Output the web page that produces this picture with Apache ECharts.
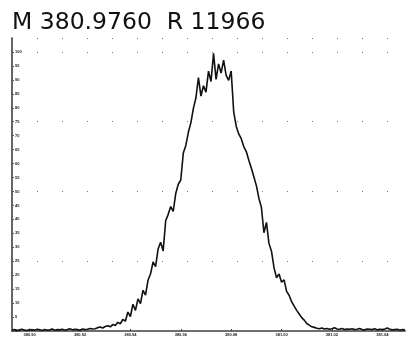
<!DOCTYPE html>
<html>
<head>
<meta charset="utf-8">
<script src="https://cdn.jsdelivr.net/npm/echarts@6/dist/echarts.min.js"></script>
<style>
  html, body { margin: 0; padding: 0; background: #fff; }
  #chart { width: 410px; height: 339px; }
</style>
</head>
<body>
<div id="chart"></div>
<script>
// profile of the isotope peak, m/z sampled every 0.001 from massStart
const massStart = 380.893;
const massStep = 0.001;
const intensity = [
  0.3, 0.5, 0.2, 0.4, 0.6, 0.3, 0.2, 0.5, 0.4, 0.3, 0.6, 0.4, 0.2, 0.5, 0.3, 0.4,
  0.7, 0.3, 0.5, 0.4, 0.6, 0.3, 0.5, 0.8, 0.4, 0.6, 0.5, 0.3, 0.7, 0.5, 0.6, 0.9, 0.7,
  0.8, 1.2, 1.4, 1.1, 1.6, 1.9, 1.5, 2.3, 2.0, 3.1, 2.6, 4.2, 3.5, 6.8, 5.2, 9.6, 7.4,
  11.5, 9.8, 14.6, 12.9, 18.2, 20.5, 24.8, 23.1, 29.4, 31.8, 28.7, 39.5, 41.8, 44.6,
  42.9, 49.3, 52.6, 54.1, 63.8, 66.5, 71.2, 74.6, 79.8, 83.5, 90.8, 84.2, 87.9, 85.6,
  93.1, 89.4, 99.5, 90.2, 95.7, 92.4, 97.1, 91.6, 89.8, 93.2, 78.5, 73.4, 70.6, 68.9,
  66.1, 64.3, 61.2, 58.4, 55.3, 52.1, 47.6, 44.3, 35.2, 38.9, 31.4, 28.6, 22.7, 19.1,
  20.4, 17.5, 18.3, 14.2, 12.8, 10.5, 8.9, 7.4, 6.1, 4.8, 3.9, 2.7, 2.1, 1.5, 1.3,
  1.0, 0.8, 1.1, 0.7, 0.9, 0.6, 0.8, 1.2, 0.7, 0.6, 0.9, 0.5, 0.7, 0.6, 0.8, 0.5,
  0.6, 0.9, 0.5, 0.4, 0.7, 0.6, 0.5, 0.8, 0.4, 0.6, 0.5, 0.7, 1.1, 0.6, 0.4, 0.5,
  0.6, 0.3, 0.5, 0.4
];
const massTicks = [380.90, 380.92, 380.94, 380.96, 380.98, 381.00, 381.02, 381.04];
const titleText = "M 380.9760  R 11966";

const points = intensity.map((v, i) => [massStart + i * massStep, v]);

const chart = echarts.init(document.getElementById("chart"));
chart.setOption({
  animation: false,
  title: {
    text: titleText,
    left: 7,
    top: 6,
    textStyle: { fontFamily: "DejaVu Sans", fontSize: 23.5, fontWeight: "normal", color: "#111" }
  },
  grid: { left: 12, right: 5, top: 38, bottom: 8 },
  xAxis: [
    {
      type: "value",
      min: 380.893,
      max: 381.049,
      axisLine: { show: true, lineStyle: { color: "#222", width: 1.5 } },
      axisTick: { show: true, customValues: massTicks, length: 2, inside: true, lineStyle: { color: "#444" } },
      axisLabel: {
        customValues: massTicks,
        fontSize: 4,
        margin: 2,
        color: "#222",
        fontWeight: "bold",
        formatter: (v) => v.toFixed(2)
      },
      splitLine: { show: false }
    },
    {
      type: "value",
      position: "top",
      min: 380.893,
      max: 381.049,
      axisLine: { show: true, lineStyle: { color: "#777", width: 1.5 } },
      axisTick: { show: false },
      axisLabel: { show: false },
      splitLine: { show: false }
    }
  ],
  yAxis: [
    {
      type: "value",
      min: 0,
      max: 105,
      interval: 5,
      axisLine: { show: true, lineStyle: { color: "#333", width: 1.5 } },
      axisTick: { show: true, inside: true, length: 2, lineStyle: { color: "#555" } },
      axisLabel: {
        inside: true,
        showMaxLabel: false,
        fontSize: 4,
        margin: 3,
        color: "#222",
        fontWeight: "bold"
      },
      splitLine: { show: false }
    },
    {
      type: "value",
      min: 0,
      max: 105,
      interval: 25,
      axisLine: { show: false },
      axisTick: { show: false },
      axisLabel: { show: false },
      splitLine: { show: true, lineStyle: { color: "#777", width: 1, type: [1, 24] } }
    }
  ],
  series: [
    {
      type: "line",
      data: points,
      symbol: "none",
      lineStyle: { color: "#111", width: 1.6 },
      markPoint: {
        symbol: "none",
        data: [{ coord: [380.976, 103], value: "380.976" }],
        label: { show: true, fontSize: 4, color: "#333", fontWeight: "bold", formatter: "{c}" }
      }
    }
  ]
});
</script>
</body>
</html>
